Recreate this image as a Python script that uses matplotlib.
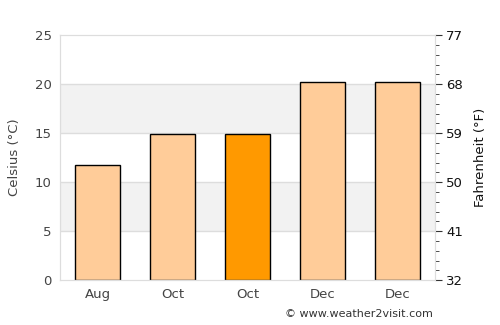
import numpy as np
import matplotlib.pyplot as plt

months = ['Aug', 'Oct', 'Oct', 'Dec', 'Dec']
temps_c = [11.7, 14.9, 14.9, 20.2, 20.2]
colors = ['#ffcc99', '#ffcc99', '#ff9900', '#ffcc99', '#ffcc99']

fig = plt.figure(figsize=(5, 3.25), dpi=100)
ax = fig.add_axes([0.12, 0.138, 0.75, 0.754])

# shaded bands and grid
for lo in (5, 15):
    ax.axhspan(lo, lo + 5, color='#f2f2f2', zorder=0, lw=0)
for y in (5, 10, 15, 20):
    ax.axhline(y, color='#dddddd', lw=1, zorder=0.5)

x = np.arange(len(months))
ax.bar(x, temps_c, width=0.6, color=colors, edgecolor='black', linewidth=1, zorder=2)

ax.set_xlim(-0.5, len(months) - 0.5)
ax.set_ylim(0, 25)
ax.set_yticks([0, 5, 10, 15, 20, 25])
ax.set_xticks(x)
ax.set_xticklabels(months)
ax.tick_params(axis='both', colors='#444444', labelsize=9.5, length=0, pad=6)
ax.set_ylabel('Celsius (°C)', color='#444444', fontsize=9.5, labelpad=10)
for s in ax.spines.values():
    s.set_color('#dddddd')

ax2 = ax.twinx()
ax2.set_ylim(32, 77)
ax2.set_yticks([32, 41, 50, 59, 68, 77])
ax2.set_yticks(np.arange(32, 77.01, 1.8), minor=True)
ax2.tick_params(axis='y', which='major', length=5, color='#333333', labelsize=9.5,
                labelcolor='#111111', pad=3)
ax2.tick_params(axis='y', which='minor', length=3, color='#333333')
ax2.set_ylabel('Fahrenheit (°F)', color='#111111', fontsize=9.5, labelpad=8)
for s in ax2.spines.values():
    s.set_color('#dddddd')

fig.text(0.57, 0.025, '© www.weather2visit.com', fontsize=8, color='#333333')

fig.savefig('out.png', dpi=100)
